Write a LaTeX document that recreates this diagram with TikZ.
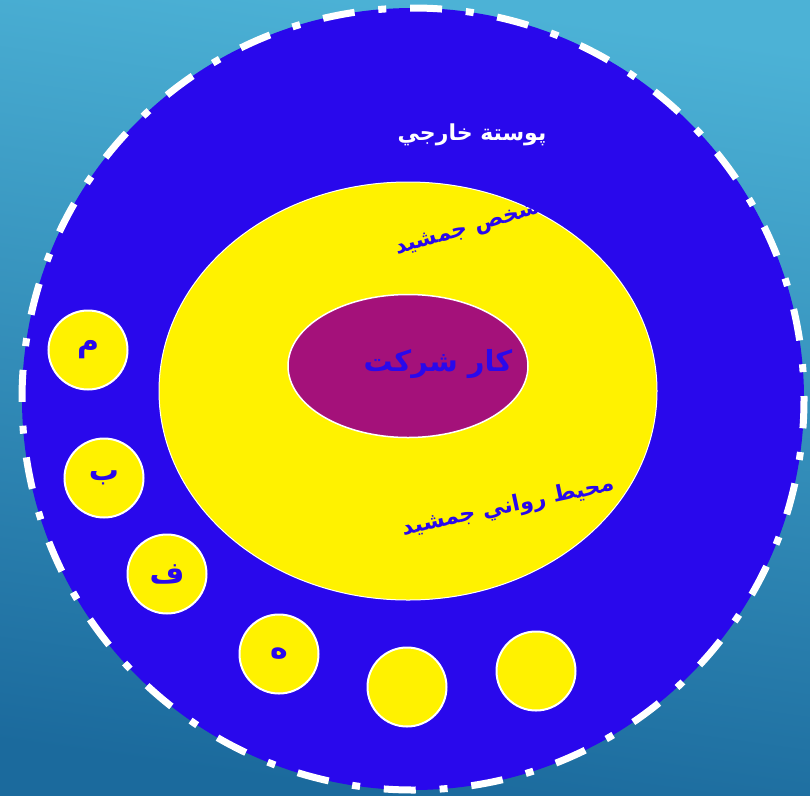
\documentclass[tikz,border=0pt]{standalone}
\usepackage{xcolor}
\usepackage{fontspec}
\usepackage{tikz}
\usetikzlibrary{shapes.geometric, positioning}
\TeXXeTstate=1
\newfontfamily\arabicfont[Script=Arabic]{DejaVu Sans}

\definecolor{bgtop}{RGB}{76,178,214}
\definecolor{bgbottom}{RGB}{27,106,157}
\definecolor{shellblue}{RGB}{41,8,236}
\definecolor{workpurple}{RGB}{164,17,122}

\begin{document}
\begin{tikzpicture}[
        x=1pt, y=-1pt,
        shell/.style={circle, fill=shellblue, draw=white, line width=7pt, inner sep=0pt, minimum size=782pt,
            dash pattern=on 32pt off 23.87pt on 8pt off 23.87pt, dash phase=29pt},
        field/.style={ellipse, fill=yellow, draw=white, line width=1pt, inner sep=0pt},
        letterdisc/.style={circle, fill=yellow, draw=white, line width=2pt, inner sep=0pt, minimum size=79pt,
            text=shellblue, font=\arabicfont\bfseries\fontsize{30}{32}\selectfont},
        label/.style={text=shellblue, inner sep=1pt, font=\arabicfont\bfseries\fontsize{22}{26}\selectfont}
    ]
        % Background
        \useasboundingbox (0,0) rectangle (810,795);
        \shade [top color=bgtop, bottom color=bgbottom, shading angle=-8] (0,0) rectangle (810,795);
        
        % Outer shell
        \node (shell) [shell] at (413,399) {};
        \node (shelltext) [label, text=white] at (472,135) {\beginR پوستة خارجي\endR};
        
        % Psychological environment
        \node (env) [field, minimum width=498pt, minimum height=418pt] at (408,391) {};
        \node (persontext) [label, rotate=16] at (468,230) {\beginR شخص جمشيد\endR};
        \node (envtext) [label, rotate=12] at (508,507) {\beginR محيط رواني جمشيد\endR};
        
        % Company work
        \node (work) [field, fill=workpurple, line width=1.5pt, minimum width=240pt, minimum height=143pt] at (408,366) {};
        \node (worktext) [label, font=\arabicfont\bfseries\fontsize{29}{33}\selectfont] at (438,364) {\beginR كار شركت\endR};
        
        % Foreign elements
        \node (m) [letterdisc] at (88,350) {\beginR م\endR};
        \node (b) [letterdisc] at (104,478) {\beginR ب\endR};
        \node (f) [letterdisc] at (167,574) {\beginR ف\endR};
        \node (h) [letterdisc] at (279,654) {\beginR ه\endR};
        \node (e1) [letterdisc] at (407,687) {};
        \node (e2) [letterdisc] at (536,671) {};
    \end{tikzpicture}
\end{document}
